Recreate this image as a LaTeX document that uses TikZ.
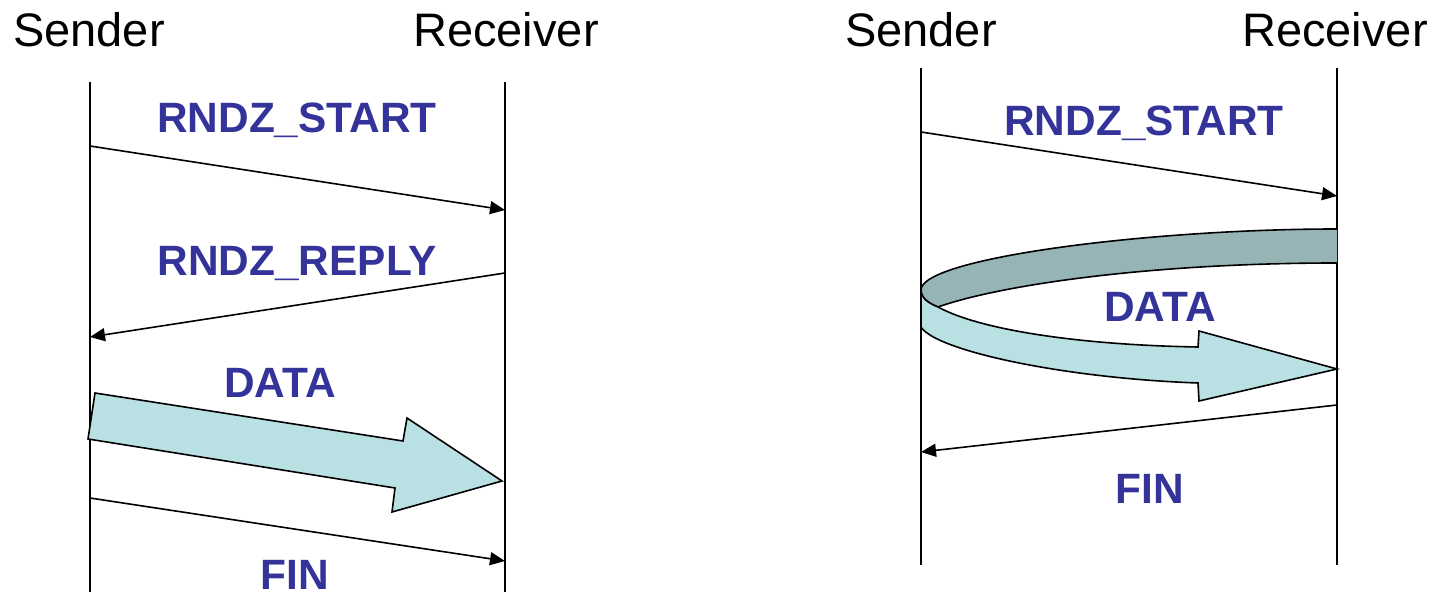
\documentclass[tikz,border=0pt]{standalone}
\usepackage{fontspec}
\setmainfont{Liberation Sans}
\usetikzlibrary{arrows.meta}

\definecolor{msgblue}{RGB}{51,51,153}
\definecolor{datalight}{RGB}{185,224,227}
\definecolor{datadark}{RGB}{150,179,182}

\begin{document}
\begin{tikzpicture}[x=0.5pt,y=-0.5pt,
  heading/.style={font=\fontsize{23.5pt}{26pt}\selectfont, anchor=base, inner sep=0pt},
  msglabel/.style={font=\fontsize{21.2pt}{24pt}\selectfont\bfseries, text=msgblue, anchor=base, inner sep=0pt},
  lifeline/.style={line width=1pt},
  message/.style={line width=0.8pt, -{Triangle[length=7.5pt,width=6.5pt]}},
  bigarrow/.style={draw=black, line width=0.8pt, line join=miter}]
\useasboundingbox (0,0) rectangle (1433,592);

% ---- left: rendezvous with explicit reply ----
\node[heading] (hSL) at (89,47) {Sender};
\node[heading] (hRL) at (506,47) {Receiver};

\coordinate (sL-top) at (90,82);   \coordinate (sL-bot) at (90,592);
\coordinate (rL-top) at (505,82);  \coordinate (rL-bot) at (505,592);
\draw[lifeline] (sL-top) -- (sL-bot);
\draw[lifeline] (rL-top) -- (rL-bot);

\coordinate (a1) at (90,146);  \coordinate (b1) at (505,210);
\coordinate (a2) at (505,273); \coordinate (b2) at (90,337);
\coordinate (a4) at (90,498);  \coordinate (b4) at (505,561);

\draw[message] (a1) -- (b1);
\node[msglabel] (lStart) at (297,133) {RNDZ\_START};
\draw[message] (a2) -- (b2);
\node[msglabel] (lReply) at (297,276) {RNDZ\_REPLY};

% data transfer block arrow
\fill[datalight] (95,393) -- (403,441) -- (407,418) -- (502,481) -- (392,512) -- (395,488) -- (88,439) -- cycle;
\draw[bigarrow] (95,393) -- (403,441) -- (407,418) -- (502,481) -- (392,512) -- (395,488) -- (88,439) -- cycle;
\node[msglabel] (lData) at (280,398) {DATA};

\draw[message] (a4) -- (b4);
\node[msglabel] (lFin) at (295,589) {FIN};

% ---- right: receiver-driven transfer ----
\node[heading] (hSR) at (921,47) {Sender};
\node[heading] (hRR) at (1335,47) {Receiver};

\coordinate (sR-top) at (921,68);   \coordinate (sR-bot) at (921,565);
\coordinate (rR-top) at (1337,68);  \coordinate (rR-bot) at (1337,565);
\draw[lifeline] (sR-top) -- (sR-bot);
\draw[lifeline] (rR-top) -- (rR-bot);

\coordinate (c1) at (921,132);  \coordinate (d1) at (1337,196);
\coordinate (c3) at (1337,405); \coordinate (d3) at (921,452);

\draw[message] (c1) -- (d1);
\node[msglabel] (rStart) at (1144,136) {RNDZ\_START};

% curved ribbon: back face (dark) then front face (light)
\path[fill=datadark, draw=black, line width=0.8pt]
  (1337,229) .. controls (1150,229) and (921,258) .. (921,290)
  .. controls (921,298) and (928,303) .. (938,307)
  .. controls (1000,285) and (1150,263) .. (1337,263);
\path[fill=datalight, draw=black, line width=0.8pt, line join=miter]
  (921,290) -- (921,327)
  .. controls (935,350) and (1060,378) .. (1198,383)
  -- (1199,401) -- (1337,369) -- (1199,331) -- (1198,347)
  .. controls (1080,345) and (980,330) .. (938,307)
  .. controls (928,303) and (921,298) .. (921,290) -- cycle;
\node[msglabel] (rData) at (1160,322) {DATA};

\draw[message] (c3) -- (d3);
\node[msglabel] (rFin) at (1150,503) {FIN};
\end{tikzpicture}
\end{document}
